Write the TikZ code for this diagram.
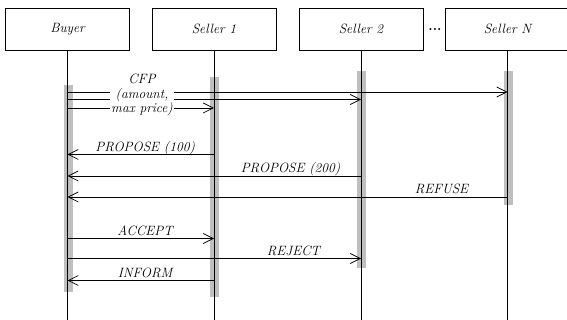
\documentclass[tikz,border=0pt]{standalone}
\usetikzlibrary{arrows.meta}
\begin{document}
\begin{tikzpicture}[x=1pt,y=-1pt,
  txt/.style={font=\itshape\fontsize{13.5}{14.5}\selectfont},
  actor/.style={txt, draw, line width=0.7pt, minimum width=124pt, minimum height=42pt, inner sep=0pt},
  msg/.style={-{Straight Barb[length=10pt,width=10pt]}, line width=0.7pt},
  lbl/.style={txt, inner sep=1pt, anchor=base},
  life/.style={line width=0.7pt},
  act/.style={fill=black!25},
  dotstyle/.style={font=\bfseries\fontsize{14}{15}\selectfont, inner sep=0pt, anchor=base}
]
\useasboundingbox (0,0) rectangle (567,320);
% actors
\node[actor] (buyer) at (67.5,29) {Buyer};
\node[actor] (s1) at (214,29) {Seller 1};
\node[actor] (s2) at (361,29) {Seller 2};
\node[actor] (sN) at (507.5,29) {Seller N};
\node[dotstyle] (dots) at (435,31) {...};
% activation bars
\fill[act] (63.5,85) rectangle (72.5,292);
\fill[act] (210,77) rectangle (219,297);
\fill[act] (357,71) rectangle (366,268);
\fill[act] (503.5,71) rectangle (512.5,205);
% lifelines
\draw[life] (buyer.south) -- (buyer.south |- 0,320);
\draw[life] (s1.south) -- (s1.south |- 0,320);
\draw[life] (s2.south) -- (s2.south |- 0,320);
\draw[life] (sN.south) -- (sN.south |- 0,320);
% CFP
\draw[msg] (buyer.south |- 0,92) -- (sN.south |- 0,92);
\draw[msg] (buyer.south |- 0,99.5) -- (s2.south |- 0,99.5);
\draw[msg] (buyer.south |- 0,108) -- (s1.south |- 0,108);
\node[txt, fill=white, align=center, inner sep=1pt] (cfp) at (142,95) {CFP\\(amount,\\max price)};
% responses
\draw[msg] (s1.south |- 0,154.5) -- node[lbl, pos=0.47, yshift=3pt] (p100) {PROPOSE (100)} (buyer.south |- 0,154.5);
\draw[msg] (s2.south |- 0,176) -- node[lbl, pos=0.24, yshift=3pt] (p200) {PROPOSE (200)} (buyer.south |- 0,176);
\draw[msg] (sN.south |- 0,197) -- node[lbl, pos=0.15, yshift=3pt] (ref) {REFUSE} (buyer.south |- 0,197);
\draw[msg] (buyer.south |- 0,238.5) -- node[lbl, pos=0.53, yshift=3pt] (acc) {ACCEPT} (s1.south |- 0,238.5);
\draw[msg] (buyer.south |- 0,258.5) -- node[lbl, pos=0.77, yshift=3pt] (rej) {REJECT} (s2.south |- 0,258.5);
\draw[msg] (s1.south |- 0,280.5) -- node[lbl, pos=0.47, yshift=3pt] (inf) {INFORM} (buyer.south |- 0,280.5);
\end{tikzpicture}
\end{document}
